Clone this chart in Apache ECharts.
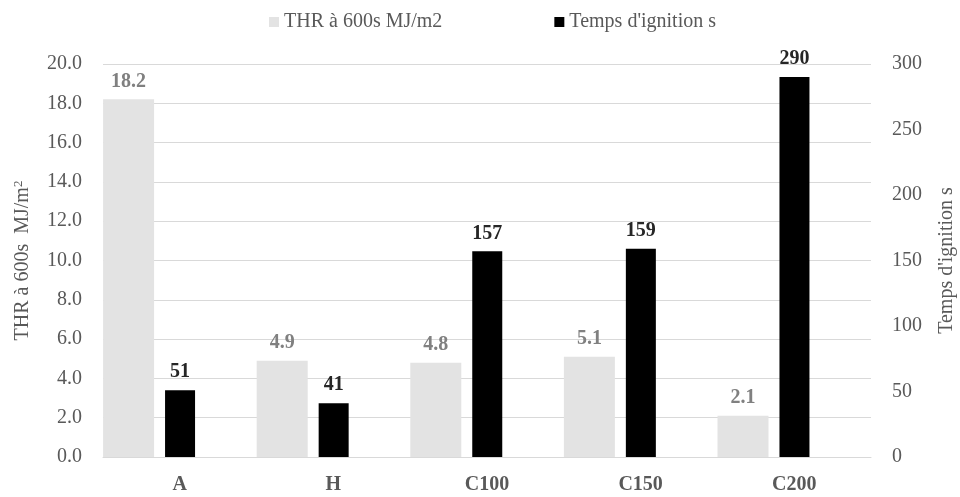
<!DOCTYPE html>
<html>
<head>
<meta charset="utf-8">
<script src="https://cdn.jsdelivr.net/npm/echarts@6/dist/echarts.min.js"></script>
<style>html,body{margin:0;padding:0;background:#fff}#c{width:960px;height:497px}</style>
</head>
<body>
<div id="c"></div>
<script>
const categories = ['A', 'H', 'C100', 'C150', 'C200'];
const thrValues = [18.2, 4.9, 4.8, 5.1, 2.1];
const ignitionValues = [51, 41, 157, 159, 290];
const padValues = [null, null, null, null, null];
const seriesNames = ['THR à 600s MJ/m2', "Temps d'ignition s"];

const font = 'Liberation Serif';
const fs = 20;
const chart = echarts.init(document.getElementById('c'));
chart.setOption({
  animation: false,
  textStyle: { fontFamily: font },
  legend: {
    data: seriesNames,
    top: 7,
    left: 264,
    itemWidth: 10,
    itemHeight: 10,
    itemGap: 112,
    icon: 'rect',
    textStyle: { fontFamily: font, fontSize: fs, color: '#595959' }
  },
  grid: { left: 103, right: 89, top: 64, bottom: 40, outerBoundsMode: 'none', containLabel: false },
  xAxis: {
    type: 'category',
    data: categories,
    axisTick: { show: false },
    axisLine: { lineStyle: { color: '#d9d9d9', width: 1 } },
    axisLabel: { fontFamily: font, fontSize: fs, fontWeight: 'bold', color: '#595959', margin: 18 }
  },
  yAxis: [
    {
      type: 'value', min: 0, max: 20, interval: 2,
      name: '{a|THR à 600s  MJ/m}{s|2}',
      nameLocation: 'middle', nameGap: 70, nameRotate: 90,
      nameTextStyle: {
        rich: {
          a: { fontFamily: font, fontSize: fs, color: '#595959' },
          s: { fontFamily: font, fontSize: 13, color: '#595959', verticalAlign: 'top', padding: [0, 0, 8, 0] }
        }
      },
      axisLabel: { fontFamily: font, fontSize: fs, color: '#595959', margin: 21, formatter: v => v.toFixed(1) },
      splitLine: { lineStyle: { color: '#d9d9d9' } },
      axisLine: { show: false }, axisTick: { show: false }
    },
    {
      type: 'value', min: 0, max: 300, interval: 50,
      name: "Temps d'ignition s",
      nameLocation: 'middle', nameGap: 66, nameRotate: 90,
      nameTextStyle: { fontFamily: font, fontSize: fs, color: '#595959' },
      axisLabel: { fontFamily: font, fontSize: fs, color: '#595959', margin: 21 },
      splitLine: { show: false },
      axisLine: { show: false }, axisTick: { show: false }
    }
  ],
  series: [
    {
      name: seriesNames[0], type: 'bar', yAxisIndex: 0, data: thrValues,
      barWidth: 51, barGap: '21.5%',
      itemStyle: { color: '#e3e3e3' },
      label: { show: true, position: 'top', distance: 8, fontFamily: font, fontSize: fs, fontWeight: 'bold', color: '#808080', formatter: p => p.value.toFixed(1) }
    },
    {
      name: seriesNames[1], type: 'bar', yAxisIndex: 1, data: ignitionValues,
      barWidth: 30, barGap: '21.5%',
      itemStyle: { color: '#000000' },
      label: { show: true, position: 'top', distance: 8, fontFamily: font, fontSize: fs, fontWeight: 'bold', color: '#262626' }
    },
    {
      name: 'pad', type: 'bar', yAxisIndex: 1, data: padValues,
      barWidth: 55, barGap: '21.5%',
      itemStyle: { color: 'transparent' }, silent: true
    }
  ]
});
</script>
</body>
</html>
